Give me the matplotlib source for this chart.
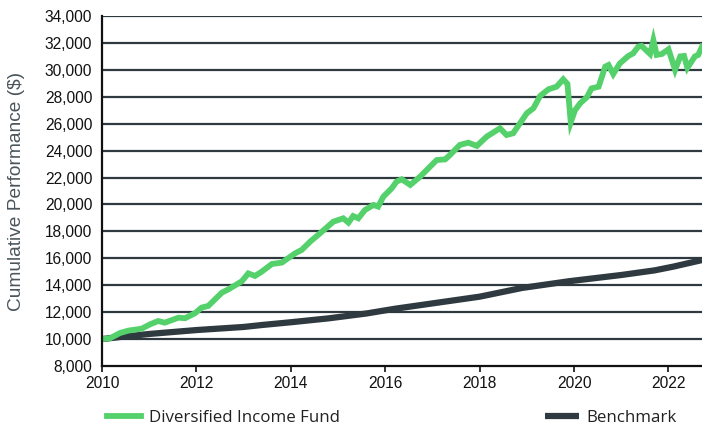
#!/usr/bin/env python3

import matplotlib
matplotlib.use('Agg')
import matplotlib.pyplot as plt
import numpy as np

# ======================================================================
# Data (decimal year, value in $).
# ======================================================================

fund_t = [2010.00, 2010.17, 2010.38, 2010.56, 2010.84, 2011.02, 2011.19, 2011.33,
          2011.62, 2011.76, 2011.97, 2012.11, 2012.25, 2012.54, 2012.68, 2012.96,
          2013.10, 2013.24, 2013.38, 2013.60, 2013.81, 2014.09, 2014.23, 2014.41,
          2014.62, 2014.90, 2015.11, 2015.22, 2015.32, 2015.43, 2015.57, 2015.75,
          2015.85, 2015.96, 2016.14, 2016.24, 2016.35, 2016.53, 2016.74, 2017.09,
          2017.27, 2017.37, 2017.58, 2017.76, 2017.94, 2018.15, 2018.43, 2018.57,
          2018.71, 2019.00, 2019.14, 2019.28, 2019.46, 2019.63, 2019.77, 2019.86,
          2019.93, 2020.02, 2020.13, 2020.27, 2020.37, 2020.52, 2020.66, 2020.73,
          2020.83, 2020.97, 2021.15, 2021.25, 2021.36, 2021.43, 2021.61, 2021.68,
          2021.75, 2021.86, 2022.00, 2022.14, 2022.25, 2022.33, 2022.40, 2022.56,
          2022.63, 2022.71]
fund_v = [10000, 10060, 10450, 10630, 10770, 11100, 11340, 11220,
          11590, 11550, 11920, 12340, 12460, 13450, 13700, 14290,
          14880, 14690, 15000, 15580, 15680, 16370, 16620, 17240,
          17860, 18720, 18970, 18650, 19140, 18970, 19590, 19960,
          19840, 20580, 21210, 21700, 21870, 21450, 22070, 23300,
          23350, 23670, 24420, 24590, 24350, 25040, 25660, 25160,
          25290, 26780, 27150, 28060, 28560, 28750, 29300, 28950,
          26100, 27000, 27520, 27960, 28620, 28750, 30240, 30360,
          29690, 30480, 31030, 31220, 31720, 31780, 31180, 32200,
          31110, 31180, 31530, 30000, 31000, 31030, 30150, 31000,
          31110, 31720]

bench_t = [2010.0, 2010.5, 2011.0, 2012.0, 2013.0, 2013.4, 2014.0, 2014.8,
           2015.6, 2016.2, 2017.0, 2018.0, 2018.9, 2019.9, 2021.0, 2021.7,
           2022.1, 2022.71]
bench_v = [10000, 10200, 10380, 10670, 10900, 11050, 11250, 11540,
           11900, 12250, 12650, 13150, 13800, 14300, 14760, 15100,
           15380, 15870]

labels = ['Diversified Income Fund', 'Benchmark']
yticks = np.arange(8000, 34001, 2000)
xticks = np.arange(2010, 2023, 2)

GREEN = '#55d16c'
DARK = '#2f3a40'

# ======================================================================
# Plot.
# ======================================================================

plt.rcParams['font.family'] = ['Liberation Sans', 'DejaVu Sans']

fig = plt.figure(figsize=(7.02, 4.25), dpi=100)
ax = fig.add_axes([102/702, 1-366/425, 600/702, 350/425])

for y in yticks[1:]:
    ax.axhline(y, color=DARK, lw=1.6, zorder=1)

l1, = ax.plot(fund_t, fund_v, color=GREEN, lw=4.2, zorder=3,
              solid_joinstyle='miter', label=labels[0])
l2, = ax.plot(bench_t, bench_v, color=DARK, lw=4.5, zorder=2,
              solid_capstyle='butt', label=labels[1])

ax.set_xlim(2010, 2022.71)
ax.set_ylim(8000, 34000)
ax.set_xticks(xticks)
ax.set_yticks(yticks)
ax.set_yticklabels(['{:,}'.format(v) for v in yticks])
ax.tick_params(axis='y', length=0, pad=7, labelsize=11.2, colors='#111111')
ax.tick_params(axis='x', length=4, width=1.2, pad=3, labelsize=11.2, colors='#111111')

for s in ['top', 'right']:
    ax.spines[s].set_visible(False)
for s in ['left', 'bottom']:
    ax.spines[s].set_linewidth(1.6)
    ax.spines[s].set_color('#111111')
    ax.spines[s].set_zorder(4)

fig.text(17/702, 1-191/425, 'Cumulative Performance ($)', rotation=90,
         ha='center', va='center', fontsize=13.8, color='#4a555b')

legprop = {'family': ['Open Sans', 'DejaVu Sans'], 'size': 12.2}
for h, lab, x0 in [(l1, labels[0], 107), (l2, labels[1], 545)]:
    leg = fig.legend([h], [lab], loc='center left',
                     bbox_to_anchor=(x0/702, 1-418/425), frameon=False,
                     handlelength=2.0, handletextpad=0.45,
                     borderaxespad=0, borderpad=0, prop=legprop)
    for t in leg.get_texts():
        t.set_color('#222222')

fig.savefig('out.png', dpi=100)
plt.close()
